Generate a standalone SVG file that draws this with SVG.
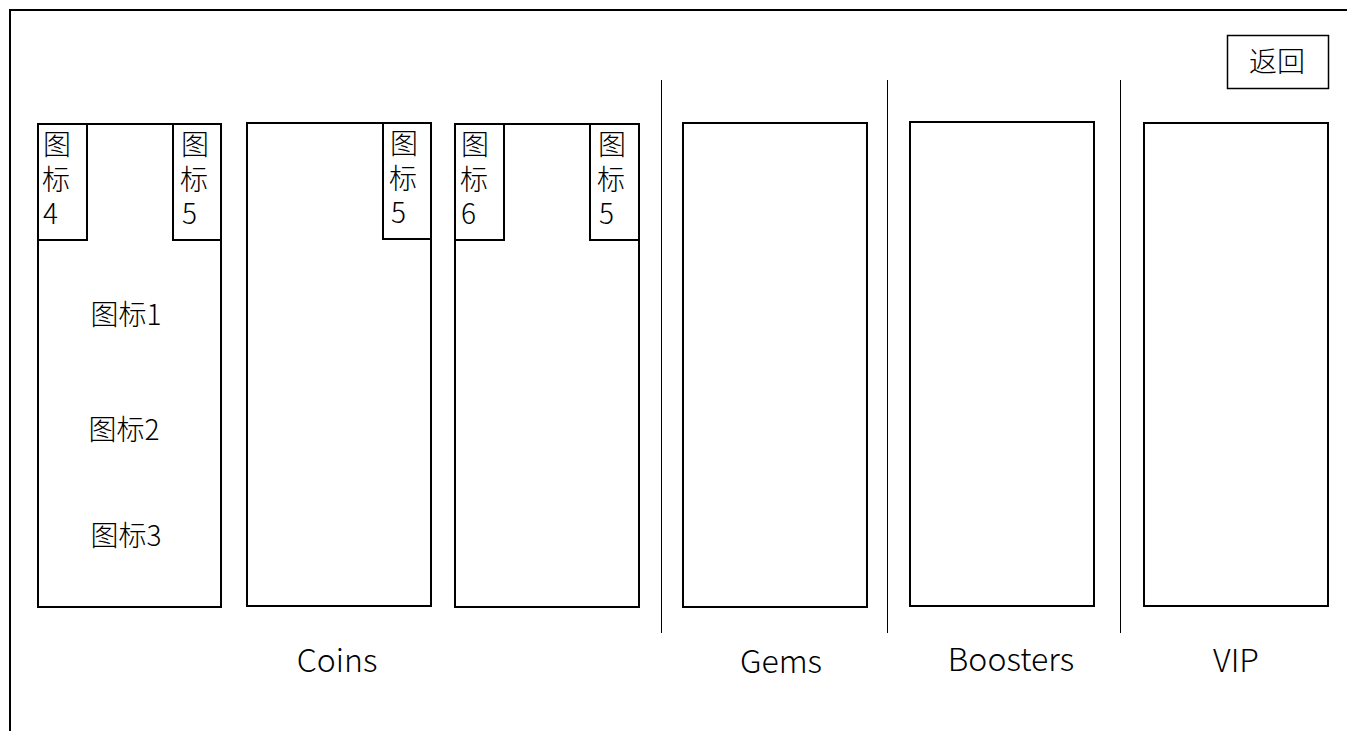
<svg xmlns="http://www.w3.org/2000/svg" width="1347" height="731" viewBox="0 0 1347 731">
  <style>
    .frame { fill: none; stroke: #000; stroke-width: 2; }
    .card { fill: #fff; stroke: #000; stroke-width: 2; }
    .tag { fill: #fff; stroke: #000; stroke-width: 2; }
    .sep { stroke: #000; stroke-width: 1; }
    .btn { fill: #fff; stroke: #000; stroke-width: 1.5; }
    text { font-family: "Noto Sans CJK SC", "Noto Sans", sans-serif; font-weight: 300; fill: #000; }
    .t { font-size: 28px; }
    .lbl { font-size: 32px; text-anchor: middle; }
    .mid { text-anchor: middle; }
  </style>

  <rect width="1347" height="731" fill="#fff"/>

  <!-- outer screen frame, runs off the right and bottom edges -->
  <rect class="frame" x="10" y="10" width="1400" height="800"/>

  <!-- tab separators -->
  <g id="connectors">
    <line class="sep" x1="661.5" y1="80" x2="661.5" y2="633"/>
    <line class="sep" x1="887.5" y1="80" x2="887.5" y2="633"/>
    <line class="sep" x1="1120.5" y1="80" x2="1120.5" y2="633"/>
  </g>

  <!-- back button -->
  <g id="btn-back">
    <rect class="btn" x="1227.5" y="35.5" width="101" height="53"/>
    <text class="t mid" x="1277" y="72">返回</text>
  </g>

  <!-- coins card 1 -->
  <g id="coins-card-1">
    <rect class="card" x="38" y="124" width="183" height="483"/>
    <rect class="tag" x="38" y="124" width="49" height="116"/>
    <text class="t"><tspan x="43" y="155">图</tspan><tspan x="42" y="190">标</tspan><tspan x="43" y="224">4</tspan></text>
    <rect class="tag" x="173" y="124" width="48" height="116"/>
    <text class="t"><tspan x="181" y="155">图</tspan><tspan x="180" y="190">标</tspan><tspan x="182" y="224">5</tspan></text>
    <text class="t mid" x="126" y="325">图标1</text>
    <text class="t mid" x="124" y="440">图标2</text>
    <text class="t mid" x="126" y="546">图标3</text>
  </g>

  <!-- coins card 2 -->
  <g id="coins-card-2">
    <rect class="card" x="247" y="123" width="184" height="483"/>
    <rect class="tag" x="383" y="123" width="48" height="116"/>
    <text class="t"><tspan x="390" y="154">图</tspan><tspan x="389" y="189">标</tspan><tspan x="391" y="223">5</tspan></text>
  </g>

  <!-- coins card 3 -->
  <g id="coins-card-3">
    <rect class="card" x="455" y="124" width="184" height="483"/>
    <rect class="tag" x="455" y="124" width="49" height="116"/>
    <text class="t"><tspan x="461" y="155">图</tspan><tspan x="460" y="190">标</tspan><tspan x="461" y="224">6</tspan></text>
    <rect class="tag" x="590" y="124" width="49" height="116"/>
    <text class="t"><tspan x="598" y="155">图</tspan><tspan x="597" y="190">标</tspan><tspan x="599" y="224">5</tspan></text>
  </g>

  <!-- gems card -->
  <g id="gems-card">
    <rect class="card" x="683" y="123" width="184" height="484"/>
  </g>

  <!-- boosters card -->
  <g id="boosters-card">
    <rect class="card" x="910" y="122" width="184" height="484"/>
  </g>

  <!-- vip card -->
  <g id="vip-card">
    <rect class="card" x="1144" y="123" width="184" height="483"/>
  </g>

  <!-- tab labels -->
  <g id="labels">
    <text class="lbl" x="337" y="672">Coins</text>
    <text class="lbl" x="781" y="673">Gems</text>
    <text class="lbl" x="1011" y="671">Boosters</text>
    <text class="lbl" x="1236" y="672">VIP</text>
  </g>
</svg>
